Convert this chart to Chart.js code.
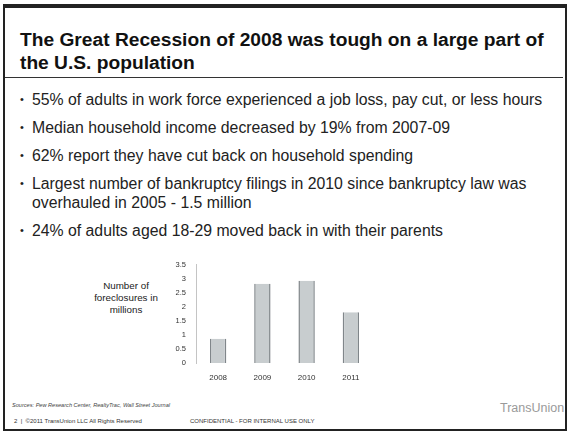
<!DOCTYPE html>
<html>
<head>
<meta charset="utf-8">
<script src="https://cdn.jsdelivr.net/npm/chart.js@4.4.1/dist/chart.umd.min.js"></script>
<style>
  html, body { margin: 0; padding: 0; background: #fff; }
  body { width: 569px; height: 431px; position: relative; overflow: hidden; font-family: "Liberation Sans", Arial, sans-serif; color: #1a1a1a; }
  .frame { position: absolute; left: 3px; top: 4px; width: 560px; height: 421px; border: 2px solid #222; border-top-width: 4px; }
  .title { position: absolute; left: 20px; top: 28px; font-size: 19.2px; font-weight: bold; line-height: 23px; color: #111; }
  .rule { position: absolute; left: 5px; top: 77px; width: 558px; height: 1px; background: #333; }
  ul { position: absolute; left: 20px; top: 90px; margin: 0; padding: 0; list-style: none; font-size: 15.8px; line-height: 19px; color: #222; }
  li { position: relative; padding-left: 12px; margin-bottom: 9px; }
  li:before { content: "\2022"; position: absolute; left: 0; top: 0; font-size: 11px; }
  .ytitle { position: absolute; left: 84px; top: 280px; width: 84px; text-align: center; font-size: 9.8px; line-height: 12px; color: #222; }
  .src { position: absolute; left: 12px; top: 402px; font-size: 5.6px; color: #444; font-style: italic; }
  .foot { position: absolute; top: 418px; font-size: 6px; color: #333; }
  .logo { position: absolute; left: 500px; top: 401px; font-size: 12.5px; color: #9a9a9a; }
  #chartWrap { position: absolute; left: 150px; top: 250px; width: 230px; height: 140px; }
</style>
</head>
<body>
<div class="frame"></div>
<div class="title">The Great Recession of 2008 was tough on a large part of<br>the U.S. population</div>
<div class="rule"></div>
<ul>
  <li>55% of adults in work force experienced a job loss, pay cut, or less hours</li>
  <li>Median household income decreased by 19% from 2007-09</li>
  <li>62% report they have cut back on household spending</li>
  <li>Largest number of bankruptcy filings in 2010 since bankruptcy law was<br>overhauled in 2005 - 1.5 million</li>
  <li>24% of adults aged 18-29 moved back in with their parents</li>
</ul>
<div class="ytitle">Number of<br>foreclosures in<br>millions</div>
<div id="chartWrap"><canvas id="chart"></canvas></div>
<div class="src">Sources: Pew Research Center, RealtyTrac, Wall Street Journal</div>
<div class="foot" style="left:14px;">2 &nbsp;|&nbsp; ©2011 TransUnion LLC All Rights Reserved</div>
<div class="foot" style="left:190px;">CONFIDENTIAL - FOR INTERNAL USE ONLY</div>
<div class="logo">TransUnion</div>
<script>
// foreclosures, millions
var years = ['2008', '2009', '2010', '2011'];
var foreclosures = [0.86, 2.82, 2.92, 1.8];
var yTicks = [0, 0.5, 1, 1.5, 2, 2.5, 3, 3.5];

var ctx = document.getElementById('chart');
new Chart(ctx, {
    type: 'bar',
    data: {
        labels: years,
        datasets: [{
            data: foreclosures,
            backgroundColor: '#c8cdcf',
            borderColor: '#80868a',
            borderWidth: { left: 1.5, right: 1.5, top: 0, bottom: 0 },
            barPercentage: 0.37,
            categoryPercentage: 1
        }]
    },
    options: {
        responsive: true,
        maintainAspectRatio: false,
        animation: false,
        layout: { padding: { top: 6, right: 7, left: 0, bottom: 0 } },
        plugins: { legend: { display: false }, tooltip: { enabled: false } },
        scales: {
            x: {
                grid: { display: false, drawTicks: false },
                border: { display: false },
                ticks: { color: '#333', font: { size: 8, family: 'Liberation Sans' }, padding: 10 },
                afterFit: function (s) { s.height = 27; }
            },
            y: {
                min: 0, max: 3.5,
                afterBuildTicks: function (s) { s.ticks = yTicks.map(function (v) { return { value: v }; }); },
                grid: { display: false, drawTicks: false },
                border: { display: true, color: '#c4c4c4', dash: [1, 2] },
                ticks: {
                    color: '#333', font: { size: 7.5, family: 'Liberation Sans' }, padding: 10,
                    callback: function (v) { return String(v); }
                },
                afterFit: function (s) { s.width = 46; }
            }
        }
    }
});
</script>
</body>
</html>
